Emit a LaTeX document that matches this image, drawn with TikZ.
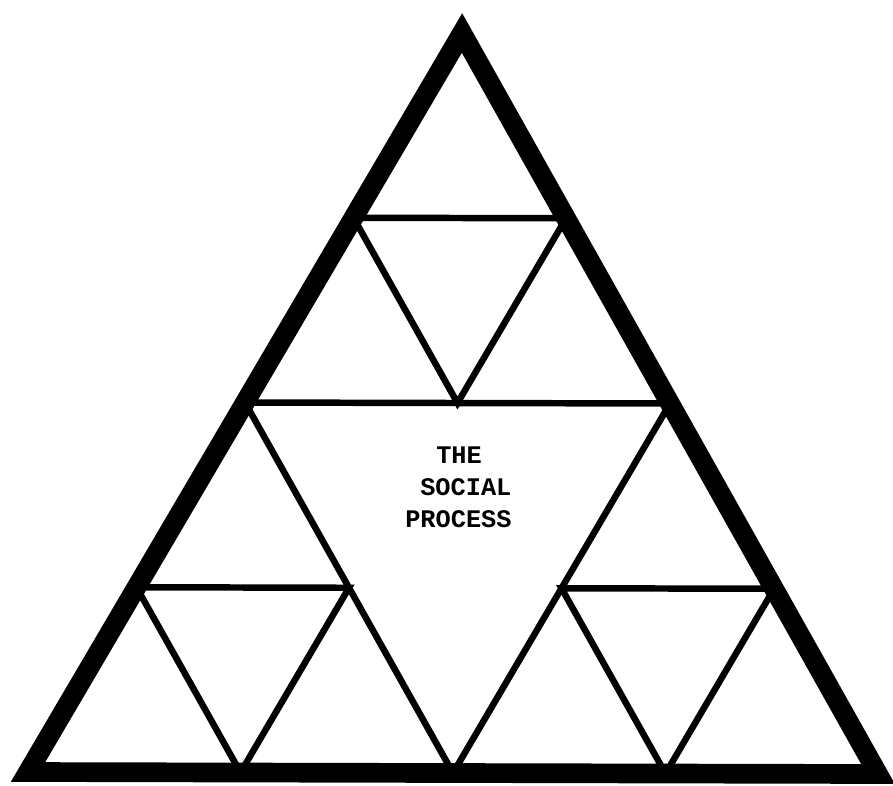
\documentclass[tikz,border=0pt]{standalone}
\usepackage{fontspec}
\setmonofont{Liberation Mono}
\usetikzlibrary{calc}

\begin{document}
\begin{tikzpicture}[x=0.025cm, y=-0.025cm,
    frame/.style={line width=14pt, line join=miter},
    part/.style={line width=4.6pt, line join=miter},
    words/.style={anchor=base west, inner sep=0pt, font=\ttfamily\bfseries\fontsize{18}{22}\selectfont}]
    \useasboundingbox (0,0) rectangle (893,785);

    % Corners
    \coordinate (top) at (462,33);
    \coordinate (left) at (28,772);
    \coordinate (right) at (878,774);

    % Midpoints of the big triangle
    \coordinate (ml) at ($(top)!0.5!(left)$);
    \coordinate (mr) at ($(top)!0.5!(right)$);
    \coordinate (mb) at ($(left)!0.5!(right)$);

    % Midpoints of the three corner triangles
    \coordinate (tl) at ($(top)!0.5!(ml)$);
    \coordinate (tr) at ($(top)!0.5!(mr)$);
    \coordinate (tb) at ($(ml)!0.5!(mr)$);
    \coordinate (ll) at ($(ml)!0.5!(left)$);
    \coordinate (lr) at ($(ml)!0.5!(mb)$);
    \coordinate (lb) at ($(left)!0.5!(mb)$);
    \coordinate (rl) at ($(mr)!0.5!(mb)$);
    \coordinate (rr) at ($(mr)!0.5!(right)$);
    \coordinate (rb) at ($(mb)!0.5!(right)$);

    % Inner triangles
    \draw[part] (ml) -- (mr) -- (mb) -- cycle;
    \draw[part] (tl) -- (tr) -- (tb) -- cycle;
    \draw[part] (ll) -- (lr) -- (lb) -- cycle;
    \draw[part] (rl) -- (rr) -- (rb) -- cycle;

    % Outer frame
    \draw[frame] (top) -- (left) -- (right) -- cycle;

    % Text
    \node[words] (the) at (436,463) {THE};
    \node[words] (social) at (420,495) {SOCIAL};
    \node[words] (process) at (405,527) {PROCESS};
\end{tikzpicture}
\end{document}
